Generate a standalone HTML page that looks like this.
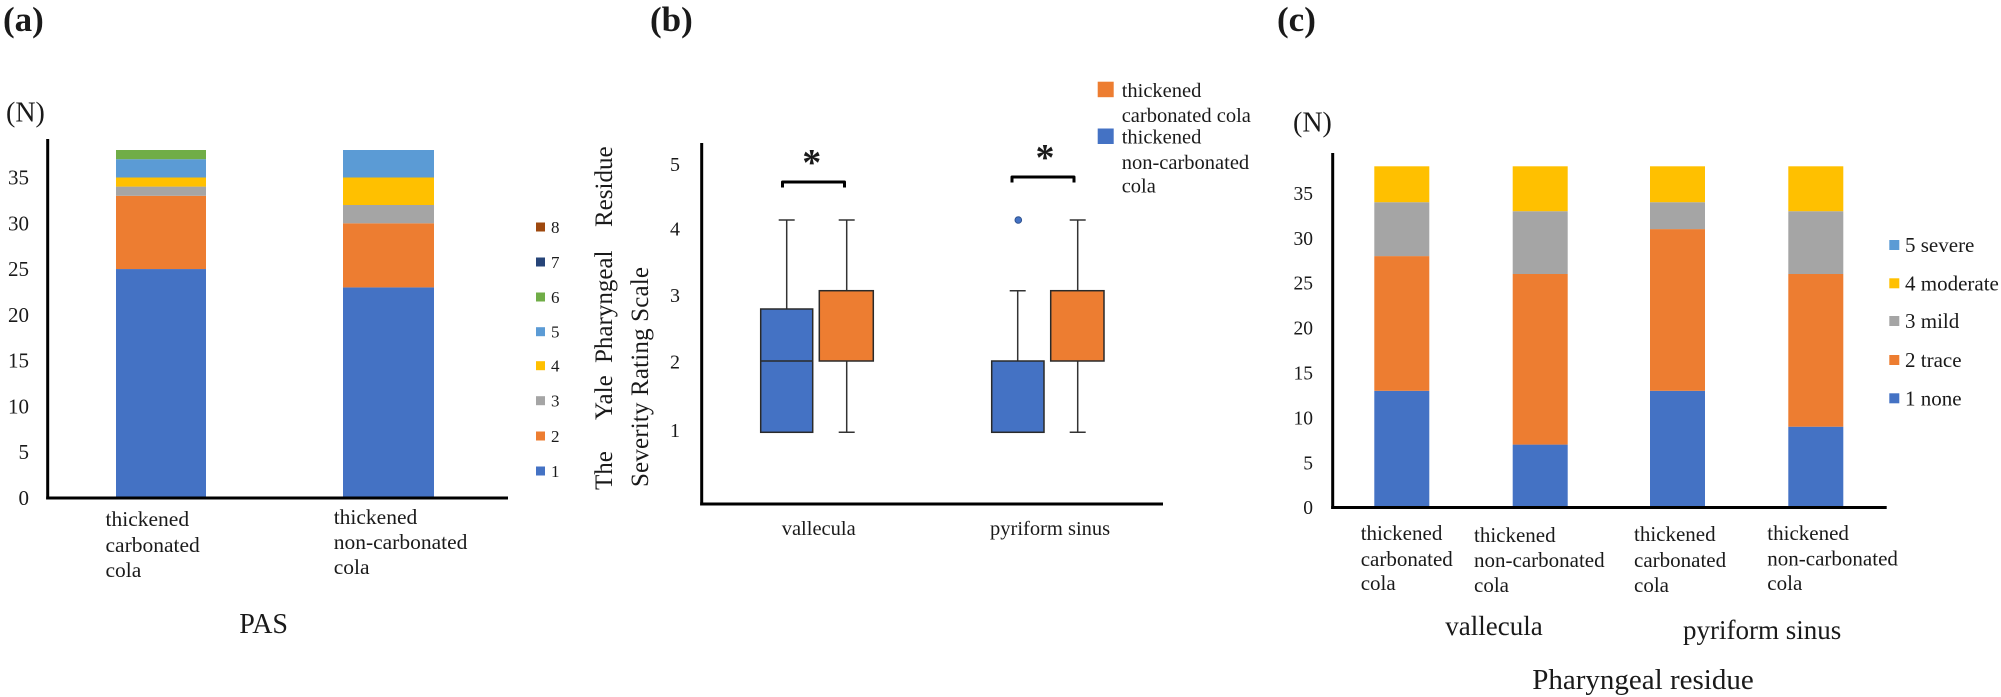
<!DOCTYPE html>
<html><head><meta charset="utf-8"><style>
html,body{margin:0;padding:0;background:#fff;}
svg{display:block;}
text{font-family:"Liberation Serif","Times New Roman",serif;fill:#1a1a1a;}
</style></head><body>
<svg width="2001" height="697" viewBox="0 0 2001 697" xmlns="http://www.w3.org/2000/svg">
<rect width="2001" height="697" fill="#fff"/>

<!-- ================= PANEL A ================= -->
<text x="3" y="31" font-size="35" font-weight="bold">(a)</text>
<text x="6" y="121.5" font-size="28">(N)</text>
<g font-size="21" text-anchor="end">
<text x="29" y="505">0</text>
<text x="29" y="459.2">5</text>
<text x="29" y="413.4">10</text>
<text x="29" y="367.6">15</text>
<text x="29" y="321.8">20</text>
<text x="29" y="276">25</text>
<text x="29" y="230.3">30</text>
<text x="29" y="184.5">35</text>
</g>
<!-- bar1 -->
<rect x="116" y="269.05" width="90" height="228.95" fill="#4472C4"/>
<rect x="116" y="195.8" width="90" height="73.25" fill="#ED7D31"/>
<rect x="116" y="186.6" width="90" height="9.2" fill="#A5A5A5"/>
<rect x="116" y="177.5" width="90" height="9.1" fill="#FFC000"/>
<rect x="116" y="159.2" width="90" height="18.3" fill="#5B9BD5"/>
<rect x="116" y="150" width="90" height="9.2" fill="#70AD47"/>
<!-- bar2 -->
<rect x="343" y="287.4" width="91" height="210.6" fill="#4472C4"/>
<rect x="343" y="223.3" width="91" height="64.1" fill="#ED7D31"/>
<rect x="343" y="205" width="91" height="18.3" fill="#A5A5A5"/>
<rect x="343" y="177.5" width="91" height="27.5" fill="#FFC000"/>
<rect x="343" y="150" width="91" height="27.5" fill="#5B9BD5"/>
<!-- axes -->
<line x1="47.7" y1="139" x2="47.7" y2="499.5" stroke="#000" stroke-width="3"/>
<line x1="46.2" y1="498" x2="508" y2="498" stroke="#000" stroke-width="3"/>
<!-- x labels -->
<g font-size="21.5">
<text x="105.5" y="526">thickened</text>
<text x="105.5" y="552">carbonated</text>
<text x="105.5" y="577">cola</text>
<text x="333.7" y="524">thickened</text>
<text x="333.7" y="549">non-carbonated</text>
<text x="333.7" y="574">cola</text>
</g>
<text x="263.6" y="633" font-size="28" text-anchor="middle">PAS</text>
<!-- legend a -->
<g font-size="17">
<rect x="536" y="222.5" width="9" height="9" fill="#9E480E"/><text x="551" y="233">8</text>
<rect x="536" y="257.5" width="9" height="9" fill="#264478"/><text x="551" y="268">7</text>
<rect x="536" y="292.5" width="9" height="9" fill="#70AD47"/><text x="551" y="303">6</text>
<rect x="536" y="327.2" width="9" height="9" fill="#5B9BD5"/><text x="551" y="337.7">5</text>
<rect x="536" y="361.2" width="9" height="9" fill="#FFC000"/><text x="551" y="371.7">4</text>
<rect x="536" y="396.2" width="9" height="9" fill="#A5A5A5"/><text x="551" y="406.7">3</text>
<rect x="536" y="431.5" width="9" height="9" fill="#ED7D31"/><text x="551" y="442">2</text>
<rect x="536" y="466.5" width="9" height="9" fill="#4472C4"/><text x="551" y="477">1</text>
</g>

<!-- ================= PANEL B ================= -->
<text x="650" y="31" font-size="35" font-weight="bold">(b)</text>
<!-- y title -->
<g font-size="25">
<text transform="translate(612,490) rotate(-90)">The</text>
<text transform="translate(612,420) rotate(-90)">Yale</text>
<text transform="translate(612,363) rotate(-90)">Pharyngeal</text>
<text transform="translate(612,227) rotate(-90)">Residue</text>
<text transform="translate(648,487) rotate(-90)" textLength="220" lengthAdjust="spacing">Severity Rating Scale</text>
</g>
<g font-size="20" text-anchor="middle">
<text x="675" y="171">5</text>
<text x="675" y="235.3">4</text>
<text x="675" y="302">3</text>
<text x="675" y="368.7">2</text>
<text x="675" y="437">1</text>
</g>
<!-- axes -->
<line x1="701.7" y1="143" x2="701.7" y2="505.5" stroke="#000" stroke-width="3"/>
<line x1="700.2" y1="504" x2="1163" y2="504" stroke="#000" stroke-width="3"/>
<!-- whiskers -->
<g stroke="#333" stroke-width="1.5" fill="none">
<line x1="786.7" y1="220" x2="786.7" y2="309"/>
<line x1="778.7" y1="220" x2="794.7" y2="220"/>
<line x1="846.7" y1="220" x2="846.7" y2="290.7"/>
<line x1="846.7" y1="361" x2="846.7" y2="432.3"/>
<line x1="838.7" y1="220" x2="854.7" y2="220"/>
<line x1="838.7" y1="432.3" x2="854.7" y2="432.3"/>
<line x1="1017.7" y1="290.7" x2="1017.7" y2="361"/>
<line x1="1009.7" y1="290.7" x2="1025.7" y2="290.7"/>
<line x1="1077.7" y1="220" x2="1077.7" y2="290.7"/>
<line x1="1077.7" y1="361" x2="1077.7" y2="432.3"/>
<line x1="1069.7" y1="220" x2="1085.7" y2="220"/>
<line x1="1069.7" y1="432.3" x2="1085.7" y2="432.3"/>
</g>
<!-- boxes -->
<g stroke="#2a2a2a" stroke-width="1.5">
<rect x="760.7" y="309" width="52" height="123.3" fill="#4472C4"/>
<line x1="760.7" y1="361" x2="812.7" y2="361"/>
<rect x="819.3" y="290.7" width="54" height="70.3" fill="#ED7D31"/>
<rect x="991.7" y="361" width="52.3" height="71.3" fill="#4472C4"/>
<rect x="1050.7" y="290.7" width="53.3" height="70.3" fill="#ED7D31"/>
</g>
<circle cx="1018.3" cy="220" r="3.3" fill="#4472C4" stroke="#2F528F" stroke-width="1"/>
<!-- brackets -->
<g stroke="#000" stroke-width="3" fill="none" stroke-linejoin="round">
<path d="M782.5,187.5 V182 H844.5 V187.5"/>
<path d="M1012,182.5 V177 H1074 V182.5"/>
</g>
<g font-size="38" font-weight="bold" text-anchor="middle">
<text x="811.7" y="175">*</text>
<text x="1045" y="170">*</text>
</g>
<!-- x labels -->
<g font-size="20.5">
<text x="818.7" y="535" text-anchor="middle">vallecula</text>
<text x="990" y="535">pyriform sinus</text>
</g>
<!-- legend b -->
<rect x="1097.7" y="81.7" width="16" height="15.5" fill="#ED7D31"/>
<rect x="1097.7" y="128.5" width="16" height="15.5" fill="#4472C4"/>
<g font-size="20.5">
<text x="1121.7" y="97">thickened</text>
<text x="1121.7" y="122">carbonated cola</text>
<text x="1121.7" y="143.7">thickened</text>
<text x="1121.7" y="169">non-carbonated</text>
<text x="1121.7" y="192.7">cola</text>
</g>

<!-- ================= PANEL C ================= -->
<text x="1277" y="31" font-size="35" font-weight="bold">(c)</text>
<text x="1293" y="131.5" font-size="28">(N)</text>
<g font-size="19.5" text-anchor="end">
<text x="1313" y="514">0</text>
<text x="1313" y="469.3">5</text>
<text x="1313" y="424.4">10</text>
<text x="1313" y="379.5">15</text>
<text x="1313" y="334.6">20</text>
<text x="1313" y="289.7">25</text>
<text x="1313" y="244.8">30</text>
<text x="1313" y="199.9">35</text>
</g>
<!-- bar1: 13,28,34,38 -->
<rect x="1374.3" y="390.8" width="55" height="116.7" fill="#4472C4"/>
<rect x="1374.3" y="256.1" width="55" height="134.7" fill="#ED7D31"/>
<rect x="1374.3" y="202.2" width="55" height="53.9" fill="#A5A5A5"/>
<rect x="1374.3" y="166.3" width="55" height="35.9" fill="#FFC000"/>
<!-- bar2: 7,26,33,38 -->
<rect x="1512.7" y="444.6" width="55" height="62.9" fill="#4472C4"/>
<rect x="1512.7" y="274" width="55" height="170.6" fill="#ED7D31"/>
<rect x="1512.7" y="211.2" width="55" height="62.8" fill="#A5A5A5"/>
<rect x="1512.7" y="166.3" width="55" height="44.9" fill="#FFC000"/>
<!-- bar3: 13,31,34,38 -->
<rect x="1650" y="390.8" width="55" height="116.7" fill="#4472C4"/>
<rect x="1650" y="229.1" width="55" height="161.7" fill="#ED7D31"/>
<rect x="1650" y="202.2" width="55" height="26.9" fill="#A5A5A5"/>
<rect x="1650" y="166.3" width="55" height="35.9" fill="#FFC000"/>
<!-- bar4: 9,26,33,38 -->
<rect x="1788.3" y="426.7" width="55" height="80.8" fill="#4472C4"/>
<rect x="1788.3" y="274" width="55" height="152.7" fill="#ED7D31"/>
<rect x="1788.3" y="211.2" width="55" height="62.8" fill="#A5A5A5"/>
<rect x="1788.3" y="166.3" width="55" height="44.9" fill="#FFC000"/>
<!-- axes -->
<line x1="1332.7" y1="153" x2="1332.7" y2="509" stroke="#000" stroke-width="3"/>
<line x1="1331.2" y1="507.5" x2="1886.7" y2="507.5" stroke="#000" stroke-width="3"/>
<!-- x labels -->
<g font-size="21">
<text x="1360.7" y="540">thickened</text>
<text x="1360.7" y="566">carbonated</text>
<text x="1360.7" y="590">cola</text>
<text x="1474" y="542">thickened</text>
<text x="1474" y="567">non-carbonated</text>
<text x="1474" y="592">cola</text>
<text x="1634" y="541">thickened</text>
<text x="1634" y="567">carbonated</text>
<text x="1634" y="592">cola</text>
<text x="1767.3" y="540">thickened</text>
<text x="1767.3" y="565.3">non-carbonated</text>
<text x="1767.3" y="590">cola</text>
</g>
<text x="1494" y="635" font-size="27" text-anchor="middle">vallecula</text>
<text x="1683" y="639" font-size="27">pyriform sinus</text>
<text x="1643" y="689" font-size="29" text-anchor="middle">Pharyngeal residue</text>
<!-- legend c -->
<g font-size="21">
<rect x="1889.3" y="240" width="10" height="10" fill="#5B9BD5"/><text x="1905" y="252">5 severe</text>
<rect x="1889.3" y="278.3" width="10" height="10" fill="#FFC000"/><text x="1905" y="290.3">4 moderate</text>
<rect x="1889.3" y="316" width="10" height="10" fill="#A5A5A5"/><text x="1905" y="328">3 mild</text>
<rect x="1889.3" y="355" width="10" height="10" fill="#ED7D31"/><text x="1905" y="367">2 trace</text>
<rect x="1889.3" y="393.3" width="10" height="10" fill="#4472C4"/><text x="1905" y="405.3">1 none</text>
</g>
</svg>
</body></html>
